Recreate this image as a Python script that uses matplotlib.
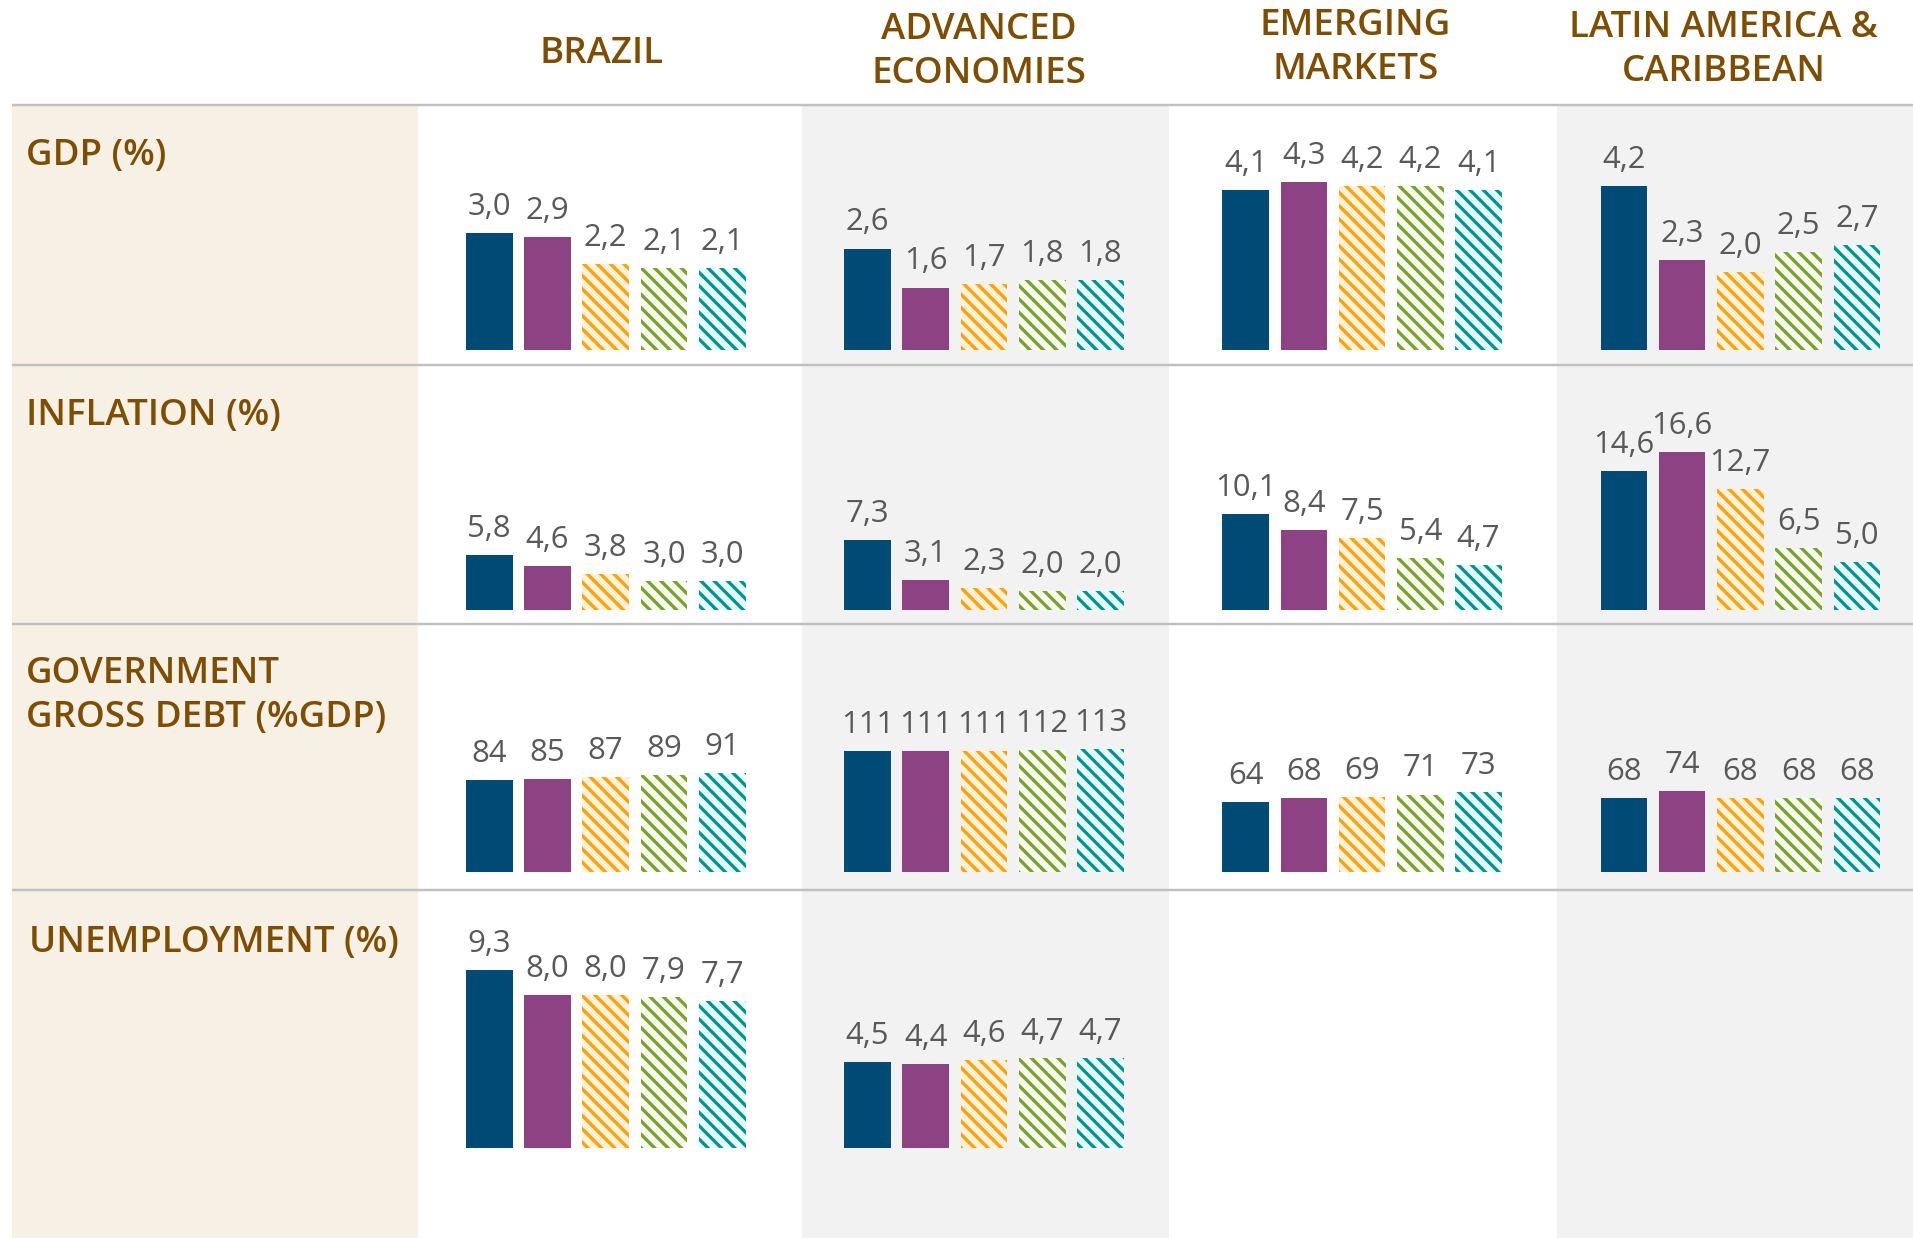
import matplotlib
matplotlib.use('Agg')
import matplotlib.pyplot as plt
from matplotlib.patches import Rectangle

plt.rcParams['font.family'] = ['Open Sans', 'DejaVu Sans']
plt.rcParams['hatch.linewidth'] = 3.0

# ===== data =====
regions = ['BRAZIL', 'ADVANCED\nECONOMIES', 'EMERGING\nMARKETS', 'LATIN AMERICA &\nCARIBBEAN']
indicators = ['GDP (%)', 'INFLATION (%)', 'GOVERNMENT\nGROSS DEBT (%GDP)', 'UNEMPLOYMENT (%)']

gdp = [[3.0, 2.9, 2.2, 2.1, 2.1],
       [2.6, 1.6, 1.7, 1.8, 1.8],
       [4.1, 4.3, 4.2, 4.2, 4.1],
       [4.2, 2.3, 2.0, 2.5, 2.7]]
inflation = [[5.8, 4.6, 3.8, 3.0, 3.0],
             [7.3, 3.1, 2.3, 2.0, 2.0],
             [10.1, 8.4, 7.5, 5.4, 4.7],
             [14.6, 16.6, 12.7, 6.5, 5.0]]
debt = [[84, 85, 87, 89, 91],
        [111, 111, 111, 112, 113],
        [64, 68, 69, 71, 73],
        [68, 74, 68, 68, 68]]
unemployment = [[9.3, 8.0, 8.0, 7.9, 7.7],
                [4.5, 4.4, 4.6, 4.7, 4.7]]

table = [gdp, inflation, debt, unemployment]

# ===== style =====
BROWN = '#7D4E00'
GREY_TXT = '#595959'
CREAM = '#F7F0E5'
GREY_BG = '#F2F2F2'
LINE = '#C0C0C0'

fills = ['#004A76', '#8C4283', '#FFF1DC', '#F7FAEC', '#E6FFFD']
edges = ['#004A76', '#8C4283', '#FFA200', '#77A22F', '#00938B']
hatches = [None, None, '\\\\', '\\\\', '\\\\']

# layout in px of a 1568 x 1015 canvas
W, H = 1568, 1015
line_y = [86, 299, 512, 730]
baseline = [287, 500, 715, 941]
px_per_unit = [32.0, 7.8, 0.895, 15.65]
col_edges = [343, 657, 958, 1276, 1568]
group_c = [496.5, 806.5, 1116.5, 1426.5]
pitch = 47.75
head_x = [493, 802, 1111, 1413]
head_y = [44, 43, 39, 41]
label_x = [21, 21, 21, 24]
label_dy = [27, 27, 26, 28]

fig = plt.figure(figsize=(1913 / 80, 1238 / 80), dpi=80)

# background table
bg = fig.add_axes([0, 0, 1, 1])
bg.set_xlim(0, W)
bg.set_ylim(H, 0)
bg.axis('off')
bg.add_patch(Rectangle((10, line_y[0]), col_edges[0] - 10, H - line_y[0], color=CREAM, lw=0))
for c in (1, 3):
    bg.add_patch(Rectangle((col_edges[c], line_y[0]), col_edges[c + 1] - col_edges[c],
                           H - line_y[0], color=GREY_BG, lw=0))
bg.hlines(line_y, 10, W, color=LINE, lw=2.2)

for c, name in enumerate(regions):
    bg.text(head_x[c], head_y[c], name, ha='center', va='center', color=BROWN,
            fontsize=33, fontweight='semibold', linespacing=1.3)

for r, name in enumerate(indicators):
    bg.text(label_x[r], line_y[r] + label_dy[r], name, ha='left', va='top', color=BROWN,
            fontsize=33, fontweight='semibold', linespacing=1.3)

# bars
for r, row in enumerate(table):
    top = line_y[r] + 2
    for c, vals in enumerate(row):
        left = group_c[c] - 2.5 * pitch
        ax = fig.add_axes([left / W, 1 - baseline[r] / H, 5 * pitch / W, (baseline[r] - top) / H])
        ax.set_xlim(-0.5, 4.5)
        ax.set_ylim(0, (baseline[r] - top) / px_per_unit[r])
        ax.axis('off')
        for i, v in enumerate(vals):
            ax.bar(i, v, width=0.8, color=fills[i], edgecolor=edges[i], hatch=hatches[i], linewidth=0)
            txt = f'{v:.0f}' if r == 2 else f'{v:.1f}'.replace('.', ',')
            ax.annotate(txt, (i, v), xytext=(0, 10), textcoords='offset points',
                        ha='center', va='bottom', fontsize=28, color=GREY_TXT)

fig.savefig('out.png', dpi=80)
